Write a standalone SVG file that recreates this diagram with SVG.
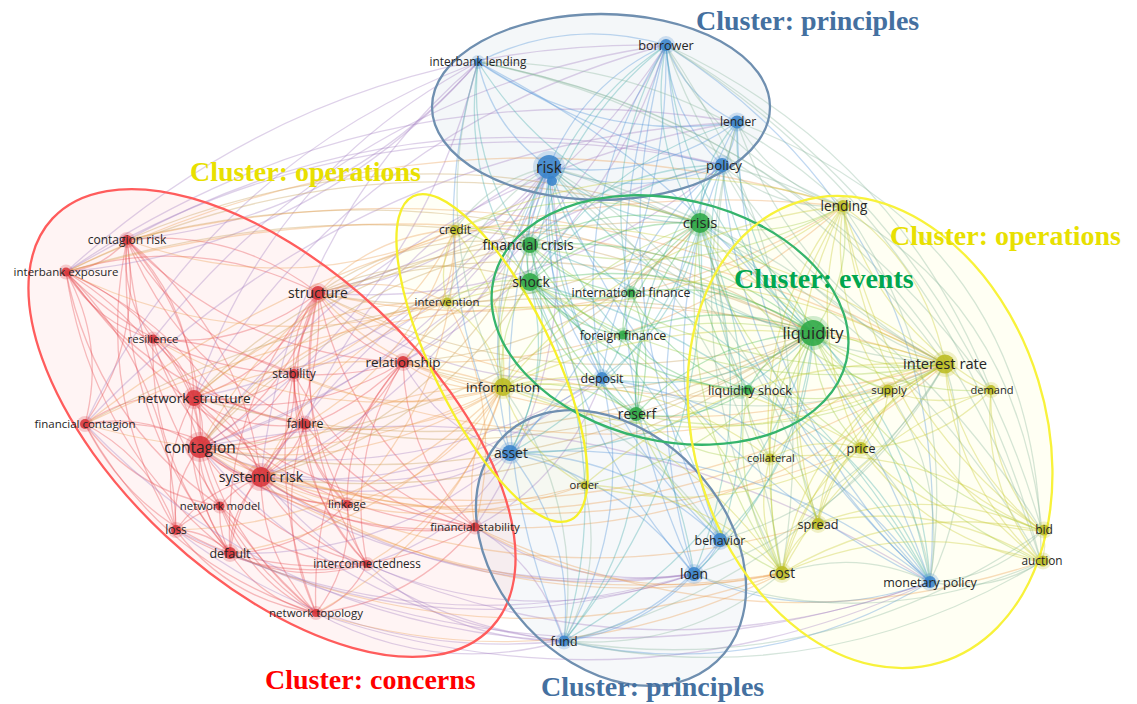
<svg xmlns="http://www.w3.org/2000/svg" width="1137" height="704" viewBox="0 0 1137 704">
<style>
#connectors{fill:none;stroke-width:1.3;stroke-opacity:.35;stroke-linecap:round}
.er{stroke:#e4484c}.erb{stroke:#a07cc0}.erg{stroke:#c49a50}.ery{stroke:#eb9a4a}
.eb{stroke:#4a8fd6}.ebg{stroke:#3fa8a8}.eby{stroke:#86b49a}.eg{stroke:#40b450}.egy{stroke:#9cc83c}.ey{stroke:#c6c82c}
.cl{fill:none;stroke-width:2.3}
.n text{font-family:"Open Sans","DejaVu Sans",sans-serif;fill:#262626;text-anchor:middle}
.n .h{opacity:.22}
.r circle{fill:#d8343a}.b circle{fill:#3a84cc}.g circle{fill:#2ea845}.y circle{fill:#bcbc22}
.n circle.c{fill-opacity:.88}
.t{font-family:"Liberation Serif","Times New Roman",serif;font-weight:bold;font-size:28px}
</style>
<rect width="1137" height="704" fill="#ffffff"/>
<g id="cluster-fills">
<ellipse cx="272" cy="423" rx="300" ry="155" transform="rotate(43 272 423)" fill="#ff2020" fill-opacity=".05"/>
<ellipse cx="601" cy="107" rx="169" ry="93" fill="#46709a" fill-opacity=".06"/>
<ellipse cx="611" cy="548" rx="155" ry="115" transform="rotate(47 611 548)" fill="#46709a" fill-opacity=".05"/>
<ellipse cx="870" cy="432" rx="176" ry="241" transform="rotate(-17 870 432)" fill="#ffffa0" fill-opacity=".13"/>
<ellipse cx="492" cy="358" rx="180" ry="60" transform="rotate(64 492 358)" fill="#ffff60" fill-opacity=".06"/>
</g>
<g id="connectors">
<g class="er">
<path d="M200 447Q207 421 194 398"/><path d="M200 447Q224 474 261 477"/><path d="M200 447Q290 394 318 293"/><path d="M200 447Q147 412 85 424"/><path d="M200 447Q168 333 66 272"/><path d="M200 447Q205 329 127 240"/><path d="M200 447Q198 384 153 339"/><path d="M200 447Q171 484 176 530"/><path d="M200 447Q194 506 230 553"/><path d="M200 447Q198 480 220 506"/><path d="M200 447Q257 456 305 424"/><path d="M200 447Q262 429 294 374"/><path d="M200 447Q318 445 403 362"/><path d="M200 447Q262 505 347 504"/><path d="M200 447Q260 539 367 564"/><path d="M200 447Q225 553 316 613"/><path d="M200 447Q321 542 475 527"/>
<path d="M261 477Q243 424 194 398"/><path d="M261 477Q326 396 318 293"/><path d="M261 477Q230 509 230 553"/><path d="M261 477Q208 486 176 530"/><path d="M261 477Q299 508 347 504"/><path d="M261 477Q297 542 367 564"/><path d="M261 477Q261 556 316 613"/><path d="M261 477Q358 545 475 527"/><path d="M261 477Q355 448 403 362"/><path d="M261 477Q294 459 305 424"/><path d="M261 477Q184 415 85 424"/><path d="M261 477Q241 332 127 240"/><path d="M261 477Q204 335 66 272"/>
<path d="M194 398Q277 370 318 293"/><path d="M194 398Q155 309 66 272"/><path d="M194 398Q192 306 127 240"/><path d="M194 398Q185 360 153 339"/><path d="M194 398Q134 389 85 424"/><path d="M194 398Q181 483 230 553"/><path d="M194 398Q249 406 294 374"/><path d="M194 398Q212 530 316 613"/>
<path d="M318 293Q233 228 127 240"/><path d="M318 293Q196 232 66 272"/><path d="M318 293Q290 329 294 374"/><path d="M318 293Q347 344 403 362"/><path d="M318 293Q285 356 305 424"/><path d="M318 293Q222 405 230 553"/><path d="M318 293Q290 404 347 504"/><path d="M318 293Q350 441 475 527"/>
<path d="M305 424Q242 473 230 553"/><path d="M305 424Q308 506 367 564"/><path d="M305 424Q369 509 475 527"/><path d="M230 553Q208 531 176 530"/><path d="M230 553Q261 600 316 613"/><path d="M230 553Q296 586 367 564"/><path d="M176 530Q152 459 85 424"/><path d="M176 530Q173 379 66 272"/><path d="M85 424Q106 344 66 272"/><path d="M85 424Q143 340 127 240"/><path d="M66 272Q103 268 127 240"/><path d="M127 240Q120 295 153 339"/><path d="M66 272Q96 323 153 339"/><path d="M316 613Q351 599 367 564"/><path d="M316 613Q353 565 347 504"/><path d="M316 613Q413 602 475 527"/><path d="M403 362Q406 459 475 527"/><path d="M66 272Q92 445 230 553"/><path d="M127 240Q116 417 230 553"/><path d="M66 272Q220 481 475 527"/><path d="M127 240Q241 356 403 362"/>
<path d="M220 506Q196 512 176 530"/><path d="M220 506Q218 532 230 553"/><path d="M220 506Q236 486 261 477"/><path d="M347 504Q350 538 367 564"/><path d="M294 374Q293 402 305 424"/><path d="M294 374Q352 378 403 362"/><path d="M153 339Q225 342 294 374"/>
<path d="M127 240Q184 340 294 374"/><path d="M127 240Q179 368 305 424"/><path d="M127 240Q94 395 176 530"/><path d="M127 240Q147 464 316 613"/><path d="M66 272Q160 369 294 374"/><path d="M66 272Q155 396 305 424"/><path d="M66 272Q96 420 220 506"/><path d="M153 339Q245 349 318 293"/><path d="M153 339Q212 412 305 424"/><path d="M153 339Q149 461 230 553"/><path d="M153 339Q179 430 261 477"/><path d="M85 424Q132 518 230 553"/><path d="M85 424Q136 492 220 506"/><path d="M85 424Q163 565 316 613"/><path d="M176 530Q229 600 316 613"/><path d="M176 530Q265 585 367 564"/><path d="M230 553Q298 552 347 504"/><path d="M230 553Q358 589 475 527"/><path d="M220 506Q247 579 316 613"/><path d="M220 506Q282 564 367 564"/><path d="M294 374Q295 450 347 504"/><path d="M294 374Q293 484 367 564"/><path d="M294 374Q354 487 475 527"/><path d="M403 362Q345 456 367 564"/><path d="M403 362Q347 422 347 504"/><path d="M403 362Q309 470 316 613"/><path d="M318 293Q288 438 367 564"/><path d="M318 293Q253 453 316 613"/><path d="M305 424Q310 472 347 504"/><path d="M305 424Q273 521 316 613"/><path d="M194 398Q244 433 305 424"/><path d="M194 398Q249 482 347 504"/><path d="M194 398Q309 519 475 527"/><path d="M194 398Q159 460 176 530"/><path d="M194 398Q306 422 403 362"/><path d="M261 477Q298 432 294 374"/>
</g>
<g class="erb">
<path d="M200 447Q431 377 549 167"/><path d="M261 477Q467 380 549 167"/><path d="M318 293Q459 276 549 167"/><path d="M200 447Q354 512 510 453"/><path d="M261 477Q390 515 510 453"/><path d="M200 447Q513 339 666 45"/><path d="M261 477Q455 610 694 574"/><path d="M200 447Q343 617 564 641"/><path d="M194 398Q418 354 549 167"/><path d="M403 362Q515 294 549 167"/><path d="M475 527Q584 362 549 167"/><path d="M200 447Q416 310 478 62"/><path d="M66 272Q314 249 478 62"/><path d="M127 240Q338 221 478 62"/>
<path d="M666 45Q321 39 66 272"/><path d="M722 165Q410 84 127 240"/><path d="M737 122Q351 143 85 424"/><path d="M930 582Q592 369 200 447"/><path d="M316 613Q629 720 930 582"/><path d="M367 564Q525 633 694 574"/><path d="M176 530Q348 663 564 641"/><path d="M564 641Q542 566 475 527"/><path d="M737 122Q372 63 66 272"/><path d="M722 165Q373 87 66 272"/><path d="M666 45Q351 89 153 339"/><path d="M478 62Q209 164 85 424"/><path d="M85 424Q281 628 564 641"/><path d="M176 530Q423 654 694 574"/><path d="M230 553Q574 707 930 582"/><path d="M367 564Q645 686 930 582"/><path d="M200 447Q418 607 694 574"/><path d="M261 477Q380 620 564 641"/><path d="M316 613Q434 677 564 641"/><path d="M367 564Q450 642 564 641"/><path d="M475 527Q572 592 694 574"/><path d="M230 553Q455 654 694 574"/><path d="M294 374Q463 322 549 167"/><path d="M230 553Q390 559 510 453"/><path d="M367 564Q461 537 510 453"/><path d="M403 362Q438 429 510 453"/>
<path d="M261 477Q451 496 602 378"/><path d="M200 447Q415 493 602 378"/><path d="M318 293Q443 392 602 378"/><path d="M318 293Q546 310 722 165"/><path d="M318 293Q542 239 666 45"/><path d="M403 362Q598 256 666 45"/><path d="M475 527Q568 478 602 378"/><path d="M666 45Q359 127 194 398"/><path d="M737 122Q404 177 200 447"/><path d="M722 165Q429 229 261 477"/><path d="M549 167Q376 247 305 424"/><path d="M478 62Q269 173 194 398"/><path d="M478 62Q287 226 261 477"/>
</g>
<g class="erg">
<path d="M200 447Q529 513 813 333"/><path d="M261 477Q566 515 813 333"/><path d="M200 447Q495 435 700 223"/><path d="M261 477Q435 433 530 282"/><path d="M261 477Q442 415 530 245"/><path d="M403 362Q614 430 813 333"/><path d="M813 333Q489 149 127 240"/><path d="M700 223Q373 121 66 272"/><path d="M530 282Q451 297 403 362"/><path d="M530 282Q422 245 318 293"/><path d="M530 245Q414 227 318 293"/><path d="M530 245Q325 280 200 447"/><path d="M813 333Q452 153 66 272"/><path d="M700 223Q410 117 127 240"/><path d="M813 333Q431 233 85 424"/><path d="M318 293Q558 412 813 333"/><path d="M318 293Q523 334 700 223"/><path d="M194 398Q517 489 813 333"/><path d="M305 424Q577 480 813 333"/><path d="M403 362Q579 352 700 223"/>
<path d="M530 245Q331 254 194 398"/><path d="M530 282Q332 299 200 447"/><path d="M813 333Q574 214 318 293"/><path d="M700 223Q412 209 194 398"/>
</g>
<g class="ery">
<path d="M200 447Q364 478 503 387"/><path d="M261 477Q626 557 945 364"/><path d="M843 206Q441 84 66 272"/><path d="M945 364Q524 142 66 272"/><path d="M230 553Q502 673 782 573"/><path d="M503 387Q346 331 194 398"/><path d="M503 387Q364 384 261 477"/><path d="M455 230Q374 234 318 293"/><path d="M455 230Q284 288 200 447"/><path d="M447 302Q295 325 200 447"/><path d="M447 302Q319 352 261 477"/><path d="M447 302Q301 299 194 398"/><path d="M447 302Q384 272 318 293"/><path d="M503 387Q461 451 475 527"/><path d="M945 364Q561 138 127 240"/><path d="M843 206Q420 163 85 424"/><path d="M945 364Q503 222 85 424"/><path d="M316 613Q557 686 782 573"/><path d="M475 527Q751 658 1041 562"/><path d="M475 527Q619 611 782 573"/><path d="M403 362Q448 395 503 387"/><path d="M318 293Q392 377 503 387"/><path d="M403 362Q455 306 455 230"/><path d="M403 362Q674 471 945 364"/><path d="M294 374Q396 422 503 387"/><path d="M305 424Q411 445 503 387"/><path d="M347 504Q448 477 503 387"/><path d="M200 447Q466 626 782 573"/><path d="M261 477Q502 629 782 573"/><path d="M318 293Q598 355 843 206"/><path d="M318 293Q617 454 945 364"/>
<path d="M403 362Q654 372 843 206"/><path d="M294 374Q622 499 945 364"/><path d="M475 527Q743 540 945 364"/><path d="M475 527Q506 409 447 302"/><path d="M347 504Q456 389 455 230"/><path d="M367 564Q470 503 503 387"/><path d="M230 553Q400 525 503 387"/><path d="M176 530Q368 524 503 387"/><path d="M316 613Q455 537 503 387"/><path d="M85 424Q301 489 503 387"/><path d="M66 272Q251 363 447 302"/><path d="M127 240Q293 301 455 230"/><path d="M153 339Q318 433 503 387"/><path d="M294 374Q403 334 455 230"/><path d="M305 424Q419 357 455 230"/><path d="M261 477Q421 546 584 485"/><path d="M200 447Q384 543 584 485"/><path d="M200 447Q530 580 861 448"/><path d="M261 477Q530 611 818 523"/><path d="M200 447Q483 567 770 458"/>
</g>
<g class="eb">
<path d="M666 45Q583 83 549 167"/><path d="M666 45Q686 98 737 122"/><path d="M666 45Q670 116 722 165"/><path d="M666 45Q571 313 694 574"/><path d="M666 45Q594 303 720 540"/><path d="M666 45Q691 366 930 582"/><path d="M666 45Q567 199 602 378"/><path d="M666 45Q569 16 478 62"/><path d="M478 62Q493 129 549 167"/><path d="M478 62Q416 264 510 453"/><path d="M478 62Q596 144 737 122"/><path d="M549 167Q636 201 722 165"/><path d="M549 167Q652 182 737 122"/><path d="M549 167Q533 283 602 378"/><path d="M549 167Q472 302 510 453"/><path d="M549 167Q537 398 694 574"/><path d="M549 167Q560 388 720 540"/><path d="M549 167Q462 407 564 641"/><path d="M549 167Q657 451 930 582"/><path d="M722 165Q743 415 930 582"/><path d="M722 165Q619 248 602 378"/><path d="M722 165Q646 352 720 540"/><path d="M737 122Q622 338 694 574"/><path d="M737 122Q742 391 930 582"/><path d="M564 641Q639 632 694 574"/><path d="M564 641Q662 622 720 540"/><path d="M564 641Q575 536 510 453"/><path d="M564 641Q636 517 602 378"/><path d="M694 574Q623 478 510 453"/><path d="M694 574Q807 626 930 582"/><path d="M720 540Q632 455 510 453"/><path d="M930 582Q746 434 510 453"/><path d="M930 582Q807 414 602 378"/><path d="M510 453Q670 280 666 45"/><path d="M930 582Q959 235 666 45"/><path d="M737 122Q735 146 722 165"/><path d="M720 540Q711 561 694 574"/><path d="M478 62Q620 150 722 165"/><path d="M602 378Q545 404 510 453"/><path d="M564 641Q759 685 930 582"/><path d="M930 582Q808 232 478 62"/>
</g>
<g class="ebg">
<path d="M666 45Q682 218 813 333"/><path d="M666 45Q647 141 700 223"/><path d="M666 45Q551 136 530 282"/><path d="M666 45Q558 118 530 245"/><path d="M666 45Q599 162 631 293"/><path d="M478 62Q460 182 530 282"/><path d="M478 62Q467 164 530 245"/><path d="M478 62Q557 187 700 223"/><path d="M549 167Q517 221 530 282"/><path d="M549 167Q524 202 530 245"/><path d="M549 167Q613 225 700 223"/><path d="M549 167Q648 303 813 333"/><path d="M549 167Q565 246 631 293"/><path d="M549 167Q552 266 623 335"/><path d="M549 167Q543 308 636 414"/><path d="M722 165Q699 190 700 223"/><path d="M722 165Q734 267 813 333"/><path d="M722 165Q690 283 748 390"/><path d="M722 165Q603 185 530 282"/><path d="M722 165Q610 167 530 245"/><path d="M722 165Q629 272 636 414"/><path d="M737 122Q733 243 813 333"/><path d="M737 122Q698 165 700 223"/><path d="M737 122Q602 161 530 282"/><path d="M564 641Q750 537 813 333"/><path d="M564 641Q716 459 700 223"/><path d="M564 641Q619 455 530 282"/><path d="M564 641Q645 542 636 414"/><path d="M694 574Q798 478 813 333"/><path d="M694 574Q764 401 700 223"/><path d="M694 574Q667 396 530 282"/><path d="M720 540Q808 455 813 333"/><path d="M720 540Q773 378 700 223"/><path d="M720 540Q677 373 530 282"/><path d="M930 582Q921 434 813 333"/><path d="M930 582Q887 357 700 223"/><path d="M930 582Q790 352 530 282"/><path d="M930 582Q797 334 530 245"/><path d="M930 582Q877 450 748 390"/><path d="M510 453Q554 372 530 282"/><path d="M510 453Q562 353 530 245"/><path d="M510 453Q651 376 700 223"/><path d="M510 453Q686 454 813 333"/><path d="M602 378Q717 398 813 333"/><path d="M602 378Q682 320 700 223"/><path d="M602 378Q585 316 530 282"/><path d="M602 378Q611 403 636 414"/><path d="M602 378Q618 358 623 335"/>
</g>
<g class="eby">
<path d="M666 45Q742 260 945 364"/><path d="M666 45Q722 161 843 206"/><path d="M478 62Q426 230 503 387"/><path d="M549 167Q482 268 503 387"/><path d="M549 167Q708 345 945 364"/><path d="M549 167Q489 180 455 230"/><path d="M549 167Q471 214 447 302"/><path d="M722 165Q794 309 945 364"/><path d="M722 165Q774 210 843 206"/><path d="M737 122Q793 285 945 364"/><path d="M737 122Q669 357 782 573"/><path d="M737 122Q773 185 843 206"/><path d="M737 122Q686 297 770 458"/><path d="M564 641Q584 502 503 387"/><path d="M564 641Q810 579 945 364"/><path d="M564 641Q687 651 782 573"/><path d="M564 641Q605 567 584 485"/><path d="M694 574Q858 520 945 364"/><path d="M720 540Q868 497 945 364"/><path d="M720 540Q642 420 503 387"/><path d="M930 582Q981 476 945 364"/><path d="M930 582Q947 478 888 390"/><path d="M930 582Q996 579 1042 531"/><path d="M930 582Q990 594 1041 562"/><path d="M930 582Q962 377 843 206"/><path d="M930 582Q858 548 782 573"/><path d="M930 582Q922 501 861 448"/><path d="M602 378Q776 440 945 364"/><path d="M564 641Q818 697 1041 562"/><path d="M564 641Q825 682 1042 531"/><path d="M694 574Q866 638 1041 562"/><path d="M584 485Q553 454 510 453"/><path d="M782 573Q747 323 549 167"/><path d="M782 573Q830 286 666 45"/><path d="M818 523Q755 291 549 167"/><path d="M1042 531Q868 250 549 167"/><path d="M1041 562Q957 229 666 45"/><path d="M1042 531Q951 213 666 45"/><path d="M991 390Q898 153 666 45"/><path d="M991 390Q800 123 478 62"/><path d="M843 206Q689 61 478 62"/><path d="M945 364Q772 120 478 62"/><path d="M1041 562Q874 266 549 167"/><path d="M1041 562Q1043 236 737 122"/><path d="M1042 531Q1010 236 722 165"/><path d="M1041 562Q910 143 478 62"/>
</g>
<g class="eg">
<path d="M813 333Q779 255 700 223"/><path d="M813 333Q682 251 530 282"/><path d="M813 333Q689 232 530 245"/><path d="M813 333Q730 277 631 293"/><path d="M813 333Q718 296 623 335"/><path d="M813 333Q769 349 748 390"/><path d="M813 333Q708 338 636 414"/><path d="M700 223Q603 219 530 282"/><path d="M700 223Q611 200 530 245"/><path d="M700 223Q652 244 631 293"/><path d="M700 223Q639 264 623 335"/><path d="M700 223Q630 306 636 414"/><path d="M700 223Q691 316 748 390"/><path d="M530 282Q578 308 631 293"/><path d="M530 282Q566 327 623 335"/><path d="M530 282Q557 369 636 414"/><path d="M530 282Q617 380 748 390"/><path d="M530 245Q571 289 631 293"/><path d="M530 245Q559 309 623 335"/><path d="M530 245Q549 351 636 414"/><path d="M636 414Q658 353 631 293"/><path d="M636 414Q645 372 623 335"/><path d="M636 414Q697 424 748 390"/><path d="M631 293Q670 365 748 390"/><path d="M623 335Q675 388 748 390"/><path d="M530 282Q525 263 530 245"/><path d="M631 293Q622 313 623 335"/>
</g>
<g class="egy">
<path d="M813 333Q873 375 945 364"/><path d="M813 333Q853 276 843 206"/><path d="M813 333Q839 377 888 390"/><path d="M813 333Q891 397 991 390"/><path d="M813 333Q814 400 861 448"/><path d="M813 333Q767 387 770 458"/><path d="M813 333Q778 429 818 523"/><path d="M813 333Q750 447 782 573"/><path d="M813 333Q888 478 1042 531"/><path d="M813 333Q881 493 1041 562"/><path d="M813 333Q647 298 503 387"/><path d="M700 223Q794 343 945 364"/><path d="M700 223Q775 243 843 206"/><path d="M700 223Q569 266 503 387"/><path d="M700 223Q576 178 455 230"/><path d="M700 223Q736 368 861 448"/><path d="M700 223Q671 414 782 573"/><path d="M700 223Q761 344 888 390"/><path d="M530 282Q496 329 503 387"/><path d="M530 282Q485 275 447 302"/><path d="M530 282Q503 241 455 230"/><path d="M530 282Q721 406 945 364"/><path d="M530 245Q488 311 503 387"/><path d="M530 245Q496 223 455 230"/><path d="M530 245Q714 388 945 364"/><path d="M530 245Q694 288 843 206"/><path d="M636 414Q801 451 945 364"/><path d="M636 414Q575 374 503 387"/><path d="M636 414Q694 463 770 458"/><path d="M636 414Q677 523 782 573"/><path d="M748 390Q852 416 945 364"/><path d="M748 390Q745 428 770 458"/><path d="M748 390Q728 488 782 573"/><path d="M584 485Q598 373 530 282"/><path d="M584 485Q729 455 813 333"/><path d="M782 573Q714 377 530 282"/>
</g>
<g class="ey">
<path d="M945 364Q911 366 888 390"/><path d="M945 364Q963 386 991 390"/><path d="M945 364Q886 389 861 448"/><path d="M945 364Q839 376 770 458"/><path d="M945 364Q850 418 818 523"/><path d="M945 364Q822 436 782 573"/><path d="M945 364Q960 467 1042 531"/><path d="M945 364Q953 482 1041 562"/><path d="M945 364Q926 265 843 206"/><path d="M945 364Q719 287 503 387"/><path d="M945 364Q727 199 455 230"/><path d="M945 364Q708 233 447 302"/><path d="M945 364Q740 352 584 485"/><path d="M843 206Q829 307 888 390"/><path d="M843 206Q880 328 991 390"/><path d="M843 206Q804 331 861 448"/><path d="M843 206Q756 317 770 458"/><path d="M843 206Q767 360 818 523"/><path d="M843 206Q739 377 782 573"/><path d="M843 206Q878 408 1042 531"/><path d="M843 206Q871 424 1041 562"/><path d="M843 206Q644 140 455 230"/><path d="M843 206Q637 229 503 387"/><path d="M861 448Q886 424 888 390"/><path d="M861 448Q938 445 991 390"/><path d="M861 448Q825 477 818 523"/><path d="M861 448Q797 495 782 573"/><path d="M861 448Q814 435 770 458"/><path d="M861 448Q935 526 1042 531"/><path d="M861 448Q928 541 1041 562"/><path d="M888 390Q940 411 991 390"/><path d="M888 390Q826 443 818 523"/><path d="M888 390Q798 460 782 573"/><path d="M888 390Q937 491 1042 531"/><path d="M991 390Q988 471 1042 531"/><path d="M991 390Q982 486 1041 562"/><path d="M991 390Q850 440 782 573"/><path d="M1042 531Q1048 546 1041 562"/><path d="M1042 531Q904 500 782 573"/><path d="M1041 562Q909 516 782 573"/><path d="M1042 531Q932 482 818 523"/><path d="M1041 562Q937 498 818 523"/><path d="M1042 531Q921 440 770 458"/><path d="M818 523Q790 541 782 573"/><path d="M818 523Q807 481 770 458"/><path d="M770 458Q753 518 782 573"/><path d="M782 573Q680 424 503 387"/><path d="M782 573Q701 489 584 485"/><path d="M770 458Q651 369 503 387"/><path d="M861 448Q694 346 503 387"/><path d="M503 387Q510 299 455 230"/><path d="M503 387Q492 333 447 302"/><path d="M503 387Q524 452 584 485"/><path d="M455 230Q437 264 447 302"/><path d="M447 302Q664 333 843 206"/><path d="M503 387Q695 466 888 390"/><path d="M584 485Q730 522 861 448"/>
</g>
</g>
<g id="cluster-outlines">
<ellipse class="cl" cx="272" cy="423" rx="300" ry="155" transform="rotate(43 272 423)" stroke="#ff5c5c"/>
<ellipse class="cl" cx="601" cy="107" rx="169" ry="93" stroke="#6f8fb0"/>
<ellipse class="cl" cx="611" cy="548" rx="155" ry="115" transform="rotate(47 611 548)" stroke="#6f8fb0"/>
<ellipse class="cl" cx="670" cy="320" rx="181" ry="121" transform="rotate(13 670 320)" stroke="#35b46c"/>
<ellipse class="cl" cx="492" cy="358" rx="180" ry="60" transform="rotate(64 492 358)" stroke="#f6f02a"/>
<ellipse class="cl" cx="870" cy="432" rx="176" ry="241" transform="rotate(-17 870 432)" stroke="#f8f23a"/>
</g>
<g id="nodes">
<g id="n-contagion-risk" class="n r"><circle class="h" cx="127" cy="240" r="8"/><circle class="c" cx="127" cy="240" r="5"/><text x="127" y="244.3" font-size="12">contagion risk</text></g>
<g id="n-interbank-exposure" class="n r"><circle class="h" cx="66" cy="272" r="7.5"/><circle class="c" cx="66" cy="272" r="4.5"/><text x="66" y="276.1" font-size="11.5">interbank exposure</text></g>
<g id="n-resilience" class="n r"><circle class="h" cx="153" cy="339" r="7.5"/><circle class="c" cx="153" cy="339" r="4.5"/><text x="153" y="343.1" font-size="11.5">resilience</text></g>
<g id="n-structure" class="n r"><circle class="h" cx="318" cy="293" r="10"/><circle class="c" cx="318" cy="293" r="7"/><text x="318" y="298" font-size="14">structure</text></g>
<g id="n-relationship" class="n r"><circle class="h" cx="403" cy="362" r="9"/><circle class="c" cx="403" cy="362" r="6"/><text x="403" y="366.9" font-size="13.5">relationship</text></g>
<g id="n-stability" class="n r"><circle class="h" cx="294" cy="374" r="8"/><circle class="c" cx="294" cy="374" r="5"/><text x="294" y="378.3" font-size="12">stability</text></g>
<g id="n-network-structure" class="n r"><circle class="h" cx="194" cy="398" r="11"/><circle class="c" cx="194" cy="398" r="8"/><text x="194" y="402.9" font-size="13.5">network structure</text></g>
<g id="n-financial-contagion" class="n r"><circle class="h" cx="85" cy="424" r="8"/><circle class="c" cx="85" cy="424" r="5"/><text x="85" y="428.1" font-size="11.5">financial contagion</text></g>
<g id="n-failure" class="n r"><circle class="h" cx="305" cy="424" r="8.5"/><circle class="c" cx="305" cy="424" r="5.5"/><text x="305" y="428.4" font-size="12.3">failure</text></g>
<g id="n-contagion" class="n r"><circle class="h" cx="200" cy="447" r="15"/><circle class="c" cx="200" cy="447" r="11"/><text x="200" y="452.6" font-size="15.5">contagion</text></g>
<g id="n-systemic-risk" class="n r"><circle class="h" cx="261" cy="477" r="14"/><circle class="c" cx="261" cy="477" r="10"/><text x="261" y="482.1" font-size="14.2">systemic risk</text></g>
<g id="n-network-model" class="n r"><circle class="h" cx="220" cy="506" r="7.5"/><circle class="c" cx="220" cy="506" r="4.5"/><text x="220" y="510.1" font-size="11.4">network model</text></g>
<g id="n-linkage" class="n r"><circle class="h" cx="347" cy="504" r="7"/><circle class="c" cx="347" cy="504" r="4"/><text x="347" y="508.1" font-size="11.5">linkage</text></g>
<g id="n-loss" class="n r"><circle class="h" cx="176" cy="530" r="8"/><circle class="c" cx="176" cy="530" r="5"/><text x="176" y="534.3" font-size="12">loss</text></g>
<g id="n-default" class="n r"><circle class="h" cx="230" cy="553" r="9"/><circle class="c" cx="230" cy="553" r="6"/><text x="230" y="557.5" font-size="12.5">default</text></g>
<g id="n-financial-stability" class="n r"><circle class="h" cx="475" cy="527" r="7.5"/><circle class="c" cx="475" cy="527" r="4.5"/><text x="475" y="531.1" font-size="11.5">financial stability</text></g>
<g id="n-interconnectedness" class="n r"><circle class="h" cx="367" cy="564" r="7"/><circle class="c" cx="367" cy="564" r="4"/><text x="367" y="568.2" font-size="11.7">interconnectedness</text></g>
<g id="n-network-topology" class="n r"><circle class="h" cx="316" cy="613" r="7"/><circle class="c" cx="316" cy="613" r="4"/><text x="316" y="617.1" font-size="11.5">network topology</text></g>
<g id="n-interbank-lending" class="n b"><circle class="h" cx="478" cy="62" r="7"/><circle class="c" cx="478" cy="62" r="4"/><text x="478" y="66.2" font-size="11.8">interbank lending</text></g>
<g id="n-borrower" class="n b"><circle class="h" cx="666" cy="45" r="9"/><circle class="c" cx="666" cy="45" r="6"/><text x="666" y="49.6" font-size="12.7">borrower</text></g>
<g id="n-lender" class="n b"><circle class="h" cx="737" cy="122" r="9.5"/><circle class="c" cx="737" cy="122" r="6.5"/><text x="738" y="126.3" font-size="12">lender</text></g>
<g id="n-policy" class="n b"><circle class="h" cx="722" cy="165" r="10"/><circle class="c" cx="722" cy="165" r="7"/><text x="724" y="169.8" font-size="13.3">policy</text></g>
<g id="n-risk" class="n b"><circle class="h" cx="549" cy="167" r="16"/><circle class="c" cx="549" cy="167" r="12"/><circle class="c" cx="552" cy="181" r="5"/><text x="549" y="172.6" font-size="15.6">risk</text></g>
<g id="n-deposit" class="n b"><circle class="h" cx="602" cy="378" r="9"/><circle class="c" cx="602" cy="378" r="6"/><text x="602" y="382.5" font-size="12.4">deposit</text></g>
<g id="n-asset" class="n b"><circle class="h" cx="510" cy="453" r="11"/><circle class="c" cx="510" cy="453" r="8"/><text x="511" y="458" font-size="14">asset</text></g>
<g id="n-behavior" class="n b"><circle class="h" cx="720" cy="540" r="10"/><circle class="c" cx="720" cy="540" r="7"/><text x="720" y="544.5" font-size="12.4">behavior</text></g>
<g id="n-loan" class="n b"><circle class="h" cx="694" cy="574" r="10"/><circle class="c" cx="694" cy="574" r="7"/><text x="694" y="579" font-size="13.8">loan</text></g>
<g id="n-fund" class="n b"><circle class="h" cx="564" cy="641" r="8.5"/><circle class="c" cx="564" cy="641" r="5.5"/><text x="564" y="645.5" font-size="12.4">fund</text></g>
<g id="n-monetary-policy" class="n b"><circle class="h" cx="930" cy="582" r="9"/><circle class="c" cx="930" cy="582" r="6"/><text x="930" y="586.5" font-size="12.5">monetary policy</text></g>
<g id="n-financial-crisis" class="n g"><circle class="h" cx="530" cy="245" r="11"/><circle class="c" cx="530" cy="245" r="8"/><text x="528" y="250" font-size="14">financial crisis</text></g>
<g id="n-shock" class="n g"><circle class="h" cx="530" cy="282" r="12"/><circle class="c" cx="530" cy="282" r="9"/><text x="531" y="287" font-size="14">shock</text></g>
<g id="n-crisis" class="n g"><circle class="h" cx="700" cy="223" r="13.5"/><circle class="c" cx="700" cy="223" r="10"/><text x="700" y="228.3" font-size="14.8">crisis</text></g>
<g id="n-international-finance" class="n g"><circle class="h" cx="631" cy="293" r="7.5"/><circle class="c" cx="631" cy="293" r="4.5"/><text x="631" y="297.4" font-size="12.3">international finance</text></g>
<g id="n-foreign-finance" class="n g"><circle class="h" cx="623" cy="335" r="7.5"/><circle class="c" cx="623" cy="335" r="4.5"/><text x="623" y="339.5" font-size="12.4">foreign finance</text></g>
<g id="n-liquidity" class="n g"><circle class="h" cx="813" cy="333" r="17"/><circle class="c" cx="813" cy="333" r="13"/><text x="813" y="338.9" font-size="16.5">liquidity</text></g>
<g id="n-liquidity-shock" class="n g"><circle class="h" cx="740" cy="391" r="8"/><circle class="c" cx="748" cy="390" r="5"/><text x="750" y="394.5" font-size="12.6">liquidity shock</text></g>
<g id="n-reserf" class="n g"><circle class="h" cx="636" cy="414" r="10"/><circle class="c" cx="636" cy="414" r="7"/><text x="637" y="419" font-size="14">reserf</text></g>
<g id="n-credit" class="n y"><circle class="h" cx="455" cy="230" r="8"/><circle class="c" cx="455" cy="230" r="5"/><text x="455" y="234.3" font-size="12">credit</text></g>
<g id="n-intervention" class="n y"><circle class="h" cx="447" cy="302" r="7.5"/><circle class="c" cx="447" cy="302" r="4.5"/><text x="447" y="306.1" font-size="11.4">intervention</text></g>
<g id="n-information" class="n y"><circle class="h" cx="503" cy="387" r="12"/><circle class="c" cx="503" cy="387" r="9"/><text x="503" y="391.8" font-size="13.4">information</text></g>
<g id="n-order" class="n y"><circle class="h" cx="584" cy="485" r="6"/><circle class="c" cx="584" cy="485" r="3.5"/><text x="584" y="489" font-size="11.2">order</text></g>
<g id="n-lending" class="n y"><circle class="h" cx="843" cy="206" r="9"/><circle class="c" cx="843" cy="206" r="6"/><text x="844" y="210.9" font-size="13.6">lending</text></g>
<g id="n-interest-rate" class="n y"><circle class="h" cx="945" cy="364" r="13"/><circle class="c" cx="945" cy="364" r="9.5"/><text x="945" y="369.3" font-size="14.7">interest rate</text></g>
<g id="n-supply" class="n y"><circle class="h" cx="888" cy="390" r="8.5"/><circle class="c" cx="888" cy="390" r="5.5"/><text x="889" y="394.2" font-size="11.6">supply</text></g>
<g id="n-demand" class="n y"><circle class="h" cx="991" cy="390" r="8"/><circle class="c" cx="991" cy="390" r="5"/><text x="992" y="394" font-size="11.1">demand</text></g>
<g id="n-collateral" class="n y"><circle class="h" cx="770" cy="458" r="7.5"/><circle class="c" cx="770" cy="458" r="4.5"/><text x="771" y="462" font-size="11.2">collateral</text></g>
<g id="n-price" class="n y"><circle class="h" cx="861" cy="448" r="9"/><circle class="c" cx="861" cy="448" r="6"/><text x="861" y="452.5" font-size="12.5">price</text></g>
<g id="n-spread" class="n y"><circle class="h" cx="818" cy="524" r="9"/><circle class="c" cx="818" cy="524" r="6"/><text x="818" y="528.6" font-size="12.7">spread</text></g>
<g id="n-cost" class="n y"><circle class="h" cx="782" cy="573" r="10"/><circle class="c" cx="782" cy="573" r="7"/><text x="782" y="577.9" font-size="13.6">cost</text></g>
<g id="n-bid" class="n y"><circle class="h" cx="1044" cy="530" r="8.5"/><circle class="c" cx="1044" cy="530" r="5.5"/><text x="1044" y="534.3" font-size="12">bid</text></g>
<g id="n-auction" class="n y"><circle class="h" cx="1043" cy="561" r="8.5"/><circle class="c" cx="1043" cy="561" r="5.5"/><text x="1042" y="565.2" font-size="11.8">auction</text></g>
</g>
<g id="cluster-titles">
<text class="t" x="696" y="30" fill="#4470a0">Cluster: principles</text>
<text class="t" x="190" y="181" fill="#e8e000">Cluster: operations</text>
<text class="t" x="890" y="245" fill="#e8e000">Cluster: operations</text>
<text class="t" x="734" y="288" fill="#00a650">Cluster: events</text>
<text class="t" x="265" y="689" fill="#ff0000">Cluster: concerns</text>
<text class="t" x="541" y="696" fill="#4470a0">Cluster: principles</text>
</g>
</svg>
